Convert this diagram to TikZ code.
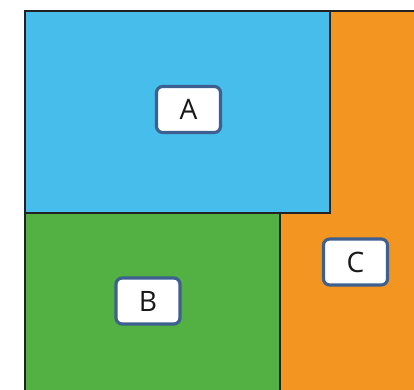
\documentclass[tikz,border=0pt]{standalone}
\usepackage{fontspec}
\setmainfont{Open Sans}
\usepackage{xcolor}
\usepackage{tikz}
\usetikzlibrary{positioning}
\definecolor{regionblue}{HTML}{47BDEB}
\definecolor{regiongreen}{HTML}{53B043}
\definecolor{regionorange}{HTML}{F39621}
\definecolor{labelframe}{HTML}{3D6090}
\definecolor{edgedark}{HTML}{222222}
\tikzset{
  region/.style={draw=edgedark,line width=1.2pt},
  tag/.style={rectangle,draw=labelframe,line width=1.8pt,fill=white,rounded corners=3.5pt,
    minimum width=1.28cm,minimum height=0.92cm,align=center,
    font=\fontsize{16}{18}\selectfont,text=black!90}
}

\begin{document}
\begin{tikzpicture}[x=0.02cm,y=-0.02cm]
    \useasboundingbox (0,0) rectangle (414,390);
    \begin{scope}
        \clip (0,0) rectangle (414,390);
        \fill[regionorange] (25,11) rectangle (430,400);
        \draw[region,fill=regionblue] (25,11) rectangle (330,213);
        \draw[region,fill=regiongreen] (25,213) rectangle (280,400);
        \draw[region] (25,400) -- (25,11) -- (430,11);
    \end{scope}
    \node[tag] (tagA) at (188.5,109.5) {A};
    \node[tag] (tagB) at (148,301) {B};
    \node[tag] (tagC) at (355.5,262) {C};
\end{tikzpicture}
\end{document}
